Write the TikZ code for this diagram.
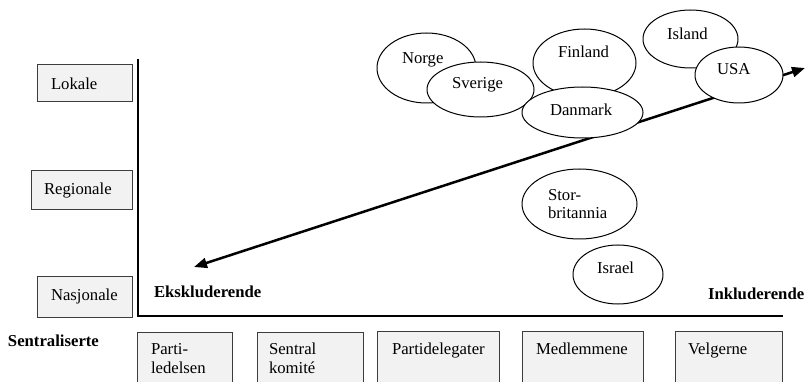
\documentclass[tikz,border=0pt]{standalone}
\usepackage{fontspec}
\setmainfont{Liberation Serif}
\usetikzlibrary{shapes.geometric,arrows.meta}
\definecolor{boxgray}{RGB}{242,242,242}
\definecolor{boxline}{RGB}{60,60,60}
\begin{document}
\begin{tikzpicture}[x=1pt,y=-1pt,
  every node/.style={font=\fontsize{16.7}{18.5}\selectfont, inner sep=0pt, outer sep=0pt},
  levelbox/.style={draw=boxline, fill=boxgray, line width=1pt, rectangle,
                   inner xsep=14pt, align=left},
  stagebox/.style={draw=boxline, fill=boxgray, line width=1pt, rectangle,
                   anchor=north west},
  boxtext/.style={anchor=north west, align=left},
  country/.style={ellipse, draw=black, fill=white, line width=1pt},
  ctext/.style={anchor=base west},
  ctextml/.style={anchor=north west, align=left},
  axisline/.style={line width=2pt, line cap=rect},
  scaleline/.style={line width=2.5pt, {Triangle[length=13pt,width=10pt]}-{Triangle[length=13pt,width=10pt]}},
  axislabel/.style={anchor=base west, font=\fontsize{16.7}{18.5}\selectfont\bfseries}
]
\useasboundingbox (0,0) rectangle (806,382);
\clip (0,0) rectangle (806,382);

% level of selection (vertical)
\node[levelbox, minimum width=95pt, minimum height=37pt, text width=67pt] (lokale) at (84.5,83.5) {Lokale};
\node[levelbox, minimum width=101pt, minimum height=39pt, text width=75pt, inner xsep=13pt] (regionale) at (81.5,190.5) {Regionale};
\node[levelbox, minimum width=95pt, minimum height=41pt, text width=67pt] (nasjonale) at (84.5,296.5) {Nasjonale};

% axes
\coordinate (ytop) at (138,60);
\coordinate (origin) at (138,316);
\coordinate (xend) at (782,316);
\draw[axisline] (ytop) -- (origin) -- (xend);

\node[axislabel] (sentral) at (8,346) {Sentraliserte};
\node[axislabel] (ekskl) at (154,298) {Ekskluderende};
\node[axislabel] (inkl) at (708,299) {Inkluderende};

% selectorate stages (horizontal)
\node[stagebox, minimum width=95pt, minimum height=70pt] (parti) at (137,332) {};
\node[boxtext] (partiT) at (151,343.6) {Parti-\\ledelsen};
\node[stagebox, minimum width=106pt, minimum height=70pt] (komite) at (257,332) {};
\node[boxtext] (komiteT) at (269,343) {Sentral\\komité};
\node[stagebox, minimum width=122pt, minimum height=70pt] (delegater) at (377,331) {};
\node[boxtext] (delegaterT) at (392,342.6) {Partidelegater};
\node[stagebox, minimum width=121pt, minimum height=70pt] (medlem) at (522,331) {};
\node[boxtext] (medlemT) at (536,342.6) {Medlemmene};
\node[stagebox, minimum width=107pt, minimum height=70pt] (velgere) at (675,331) {};
\node[boxtext] (velgereT) at (688,342.6) {Velgerne};

% exclusive--inclusive scale
\coordinate (lowend) at (194,267);
\coordinate (highend) at (805,68);
\draw[scaleline] (lowend) -- (highend);

% countries
\node[country, minimum width=99pt, minimum height=70pt] (norge) at (426.5,68) {};
\node[ctext] (norgeT) at (402,64) {Norge};
\node[country, minimum width=107pt, minimum height=55pt] (sverige) at (480.5,89.5) {};
\node[ctext] (sverigeT) at (452,89) {Sverige};
\node[country, minimum width=103pt, minimum height=68pt] (finland) at (584.5,63) {};
\node[ctext] (finlandT) at (558,58) {Finland};
\node[country, minimum width=121pt, minimum height=51pt] (danmark) at (582.5,112.5) {};
\node[ctext] (danmarkT) at (550,116) {Danmark};
\node[country, minimum width=95pt, minimum height=58pt] (island) at (690.5,39) {};
\node[ctext] (islandT) at (667,40) {Island};
\node[country, minimum width=88pt, minimum height=56pt] (usa) at (739,75) {};
\node[ctext] (usaT) at (717,75) {USA};
\node[country, minimum width=115pt, minimum height=70pt] (storbr) at (579.5,204) {};
\node[ctextml] (storbrT) at (548,189.4) {Stor-\\britannia};
\node[country, minimum width=90pt, minimum height=59pt] (israel) at (618,274.5) {};
\node[ctext] (israelT) at (597,273) {Israel};
\end{tikzpicture}
\end{document}
